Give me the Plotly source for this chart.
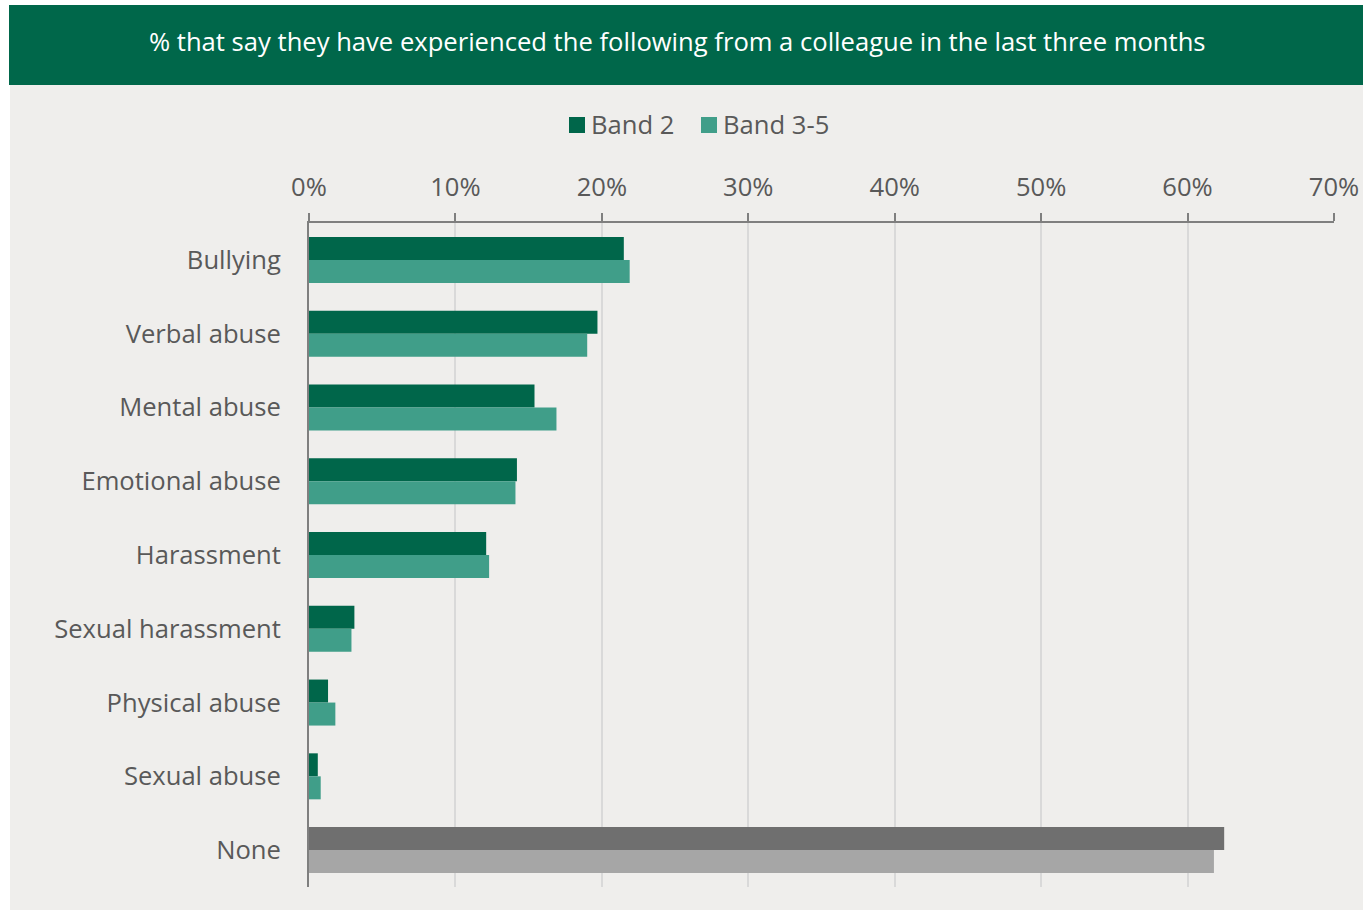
import plotly.graph_objects as go

# Survey categories, top to bottom
categories = [
    "Bullying", "Verbal abuse", "Mental abuse", "Emotional abuse",
    "Harassment", "Sexual harassment", "Physical abuse", "Sexual abuse", "None",
]
band2 = [21.5, 19.7, 15.4, 14.2, 12.1, 3.1, 1.3, 0.6, 62.5]
band3_5 = [21.9, 19.0, 16.9, 14.1, 12.3, 2.9, 1.8, 0.8, 61.8]
x_ticks = [0, 10, 20, 30, 40, 50, 60, 70]
series_names = ["Band 2", "Band 3-5"]

title_text = "% that say they have experienced the following from a colleague in the last three months"

GREEN_DARK = "#00664A"
GREEN_LIGHT = "#409E89"
GREY_DARK = "#6F6F6F"
GREY_LIGHT = "#A6A6A6"
TEXT = "#595959"
BG = "#EFEEEC"
FONT = "Open Sans"
FS = 25.6

W, H = 1363, 911
L, R, T, B = 309, 1334, 223, 887  # plot area in pixels


def px(x):
    return (x - L) / (R - L)


def py(y):
    return (B - y) / (B - T)


band2_colors = [GREEN_DARK] * (len(categories) - 1) + [GREY_DARK]
band35_colors = [GREEN_LIGHT] * (len(categories) - 1) + [GREY_LIGHT]

fig = go.Figure()
fig.add_trace(go.Bar(
    y=categories, x=band2, orientation="h", name=series_names[0],
    marker=dict(color=band2_colors, line=dict(width=0)), showlegend=False,
))
fig.add_trace(go.Bar(
    y=categories, x=band3_5, orientation="h", name=series_names[1],
    marker=dict(color=band35_colors, line=dict(width=0)), showlegend=False,
))

# Legend drawn as swatches + labels above the axis
legend_items = [(series_names[0], GREEN_DARK, 569, 589), (series_names[1], GREEN_LIGHT, 701, 721)]
shapes = [
    dict(type="rect", xref="paper", yref="paper", layer="below",
         x0=px(10), x1=px(W), y0=py(910), y1=py(85),
         fillcolor=BG, line=dict(width=0)),
    dict(type="rect", xref="paper", yref="paper", layer="below",
         x0=px(9), x1=px(W), y0=py(85), y1=py(5),
         fillcolor="#00674A", line=dict(width=0)),
]
annotations = [
    dict(text=title_text, xref="paper", yref="paper",
         x=px(677.5), y=py(42), xanchor="center", yanchor="middle",
         showarrow=False, font=dict(family=FONT, size=FS, color="white")),
]
for name, color, sx, tx in legend_items:
    shapes.append(dict(type="rect", xref="paper", yref="paper",
                       x0=px(sx), x1=px(sx + 16), y0=py(133), y1=py(117),
                       fillcolor=color, line=dict(width=0)))
    annotations.append(dict(text=name, xref="paper", yref="paper",
                            x=px(tx), y=py(125), xanchor="left", yanchor="middle",
                            showarrow=False,
                            font=dict(family=FONT, size=FS, color=TEXT)))

fig.update_layout(
    width=W, height=H,
    margin=dict(l=L, r=W - R, t=T, b=H - B, pad=0),
    paper_bgcolor="white",
    plot_bgcolor="rgba(0,0,0,0)",
    barmode="group",
    bargap=0.3765,
    bargroupgap=0,
    font=dict(family=FONT, size=FS, color=TEXT),
    showlegend=False,
    xaxis=dict(
        side="top", range=[0, 70], tickvals=x_ticks,
        ticktext=[f"{v}%" for v in x_ticks],
        showgrid=True, gridcolor="#D9D9D9", gridwidth=2,
        showline=True, linecolor="#7F7F7F", linewidth=2,
        ticks="outside", ticklen=8, tickwidth=2, tickcolor="#7F7F7F",
        zeroline=False, fixedrange=True, automargin=False,
        ticklabelstandoff=7,
        tickfont=dict(family=FONT, size=FS, color=TEXT),
    ),
    yaxis=dict(
        autorange="reversed", showgrid=False, zeroline=False,
        showline=True, linecolor="#7F7F7F", linewidth=2,
        ticks="", ticklabelstandoff=21, automargin=False,
        tickfont=dict(family=FONT, size=FS, color=TEXT),
    ),
    shapes=shapes,
    annotations=annotations,
)

fig.write_html("out.html")
